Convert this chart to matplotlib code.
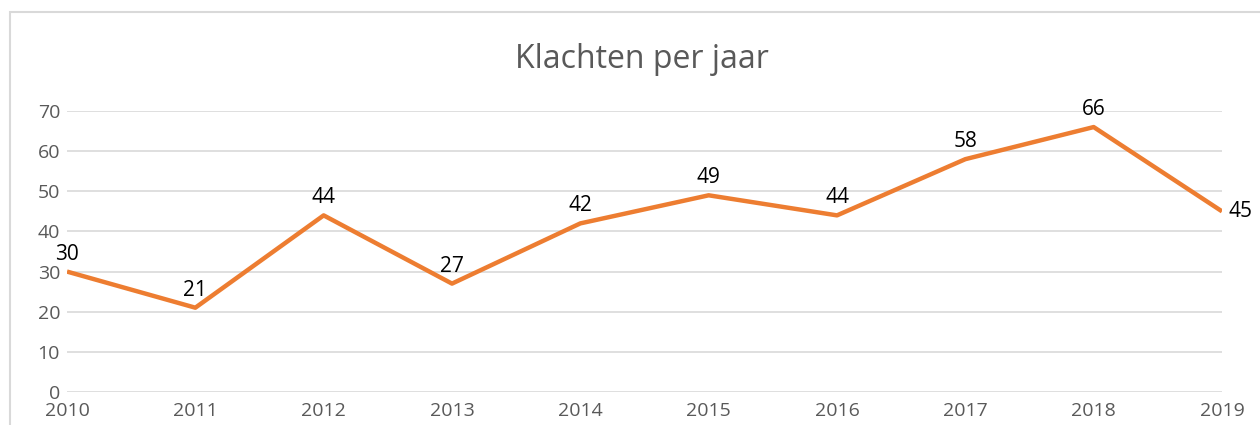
import matplotlib.pyplot as plt
from matplotlib.patches import Rectangle

years = [2010, 2011, 2012, 2013, 2014, 2015, 2016, 2017, 2018, 2019]
klachten = [30, 21, 44, 27, 42, 49, 44, 58, 66, 45]
yticks = [0, 10, 20, 30, 40, 50, 60, 70]

plt.rcParams['font.family'] = ['Open Sans', 'DejaVu Sans']

fig = plt.figure(figsize=(12.6, 4.25), dpi=100)
ax = fig.add_axes([67 / 1260, 1 - 392 / 425, (1222 - 67) / 1260, (392 - 111) / 425])

# chart frame, cropped at right and bottom
fig.patches.append(Rectangle((10 / 1260, -0.1), 1.2, 1 - 12 / 425 + 0.1,
                             transform=fig.transFigure, fill=False,
                             edgecolor='#d9d9d9', linewidth=1.5))

ax.plot(years, klachten, color='#ED7D31', linewidth=3.2, solid_capstyle='butt')

for i, (x, y) in enumerate(zip(years, klachten)):
    if i == len(years) - 1:
        ax.annotate(str(y), (x, y), xytext=(5, 0), textcoords='offset points',
                    ha='left', va='center', fontsize=15, color='black')
    else:
        ax.annotate(str(y), (x, y), xytext=(0, 5), textcoords='offset points',
                    ha='center', va='bottom', fontsize=15, color='black')

ax.set_xlim(years[0], years[-1])
ax.set_ylim(0, 70)
ax.set_xticks(years)
ax.set_yticks(yticks)
ax.grid(axis='y', color='#d9d9d9', linewidth=1.2)
ax.set_axisbelow(True)
for s in ax.spines.values():
    s.set_visible(False)
ax.tick_params(length=0, labelsize=14, labelcolor='#595959')
ax.tick_params(axis='x', pad=7)
ax.tick_params(axis='y', pad=5)

fig.text(0.5097, 1 - 60 / 425, 'Klachten per jaar', ha='center', va='center',
         fontsize=23, color='#595959')

fig.savefig('out.png', dpi=100)
